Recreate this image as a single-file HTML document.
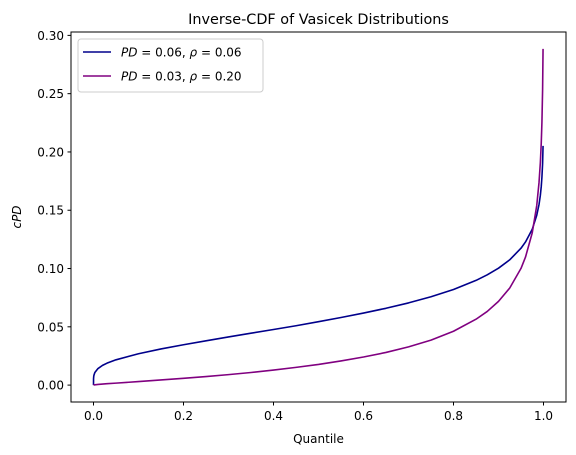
<!DOCTYPE html>
<html><head><meta charset="utf-8"><style>
body{margin:0;background:#fff;}
svg{display:block;font-family:"DejaVu Sans","Liberation Sans",sans-serif;}
</style></head><body>
<svg id="chart" width="576" height="455">
<text x="318.5" y="24" font-size="14.4" text-anchor="middle" fill="#000">Inverse-CDF of Vasicek Distributions</text>
<g id="axes"></g>
<g id="series"></g>
<rect x="71" y="32" width="495" height="370" fill="none" stroke="#000" stroke-width="1"/>
<text x="318.5" y="443" font-size="12" text-anchor="middle">Quantile</text>
<text transform="translate(21,217) rotate(-90)" font-size="12" font-style="italic" text-anchor="middle">cPD</text>
<g>
<rect x="78" y="39" width="185" height="53" rx="3" fill="#fff" stroke="#ccc"/>
<line x1="83" y1="52" x2="111" y2="52" stroke="#00008b" stroke-width="1.6"/>
<text x="121" y="56.5" font-size="12"><tspan font-style="italic">PD</tspan> = 0.06,  <tspan font-style="italic">ρ</tspan> = 0.06</text>
<line x1="83" y1="76" x2="111" y2="76" stroke="#800080" stroke-width="1.6"/>
<text x="121" y="80.5" font-size="12"><tspan font-style="italic">PD</tspan> = 0.03,  <tspan font-style="italic">ρ</tspan> = 0.20</text>
</g>
</svg>
<script>
const quantiles=[0,0.0001,0.0005,0.001,0.003,0.01,0.02,0.03,0.05,0.1,0.15,0.2,0.25,0.3,0.35,0.4,0.45,0.5,0.55,0.6,0.65,0.7,0.75,0.8,0.85,0.875,0.9,0.925,0.95,0.96,0.975,0.985,0.99,0.993,0.995,0.9965,0.998,0.999];
const seriesA=[0,0.0055,0.0074,0.0085,0.0108,0.0142,0.0169,0.0188,0.0217,0.0269,0.0310,0.0346,0.0380,0.0413,0.0445,0.0477,0.0509,0.0544,0.0580,0.0618,0.0659,0.0705,0.0758,0.0820,0.0898,0.0946,0.1003,0.1075,0.1174,0.1228,0.1337,0.1457,0.1548,0.1628,0.1703,0.1783,0.190,0.2052];
const seriesB=[0,0.00003,0.00009,0.00013,0.00025,0.00055,0.00087,0.00117,0.0017,0.0030,0.0044,0.0058,0.0073,0.0090,0.0108,0.0129,0.0152,0.0177,0.0207,0.0241,0.0280,0.0328,0.0386,0.0462,0.0565,0.0632,0.0718,0.0833,0.1001,0.1098,0.1307,0.1541,0.1736,0.1909,0.2075,0.2252,0.2533,0.2884];
const xTicks=[0,0.2,0.4,0.6,0.8,1.0];
const xTickLabels=["0.0","0.2","0.4","0.6","0.8","1.0"];
const yTicks=[0,0.05,0.10,0.15,0.20,0.25,0.30];
const yTickLabels=["0.00","0.05","0.10","0.15","0.20","0.25","0.30"];
const NS="http://www.w3.org/2000/svg";
const X0=71,X1=566,Y0=402,Y1=32,xmin=-0.05,xmax=1.05,ymin=-0.0145,ymax=0.3029;
const sx=v=>X0+(v-xmin)/(xmax-xmin)*(X1-X0);
const sy=v=>Y0-(v-ymin)/(ymax-ymin)*(Y0-Y1);
const axes=document.getElementById('axes');
xTicks.forEach((t,i)=>{
  const l=document.createElementNS(NS,'line');
  l.setAttribute('x1',sx(t));l.setAttribute('x2',sx(t));l.setAttribute('y1',Y0);l.setAttribute('y2',Y0+3.5);l.setAttribute('stroke','#000');
  
  
  axes.appendChild(l);
  const tx=document.createElementNS(NS,'text');
  tx.setAttribute('x',sx(t));tx.setAttribute('y',Y0+18);tx.setAttribute('font-size','12');tx.setAttribute('text-anchor','middle');
  tx.textContent=xTickLabels[i];
  
  
  axes.appendChild(tx);
});
yTicks.forEach((t,i)=>{
  const l=document.createElementNS(NS,'line');
  l.setAttribute('x1',X0-3.5);l.setAttribute('x2',X0);l.setAttribute('y1',sy(t));l.setAttribute('y2',sy(t));l.setAttribute('stroke','#000');
  
  
  axes.appendChild(l);
  const tx=document.createElementNS(NS,'text');
  tx.setAttribute('x',X0-7);tx.setAttribute('y',sy(t)+4.5);tx.setAttribute('font-size','12');tx.setAttribute('text-anchor','end');
  tx.textContent=yTickLabels[i];
  
  
  axes.appendChild(tx);
});
const sg=document.getElementById('series');
function draw(vals,color,name){
  const p=document.createElementNS(NS,'polyline');
  p.setAttribute('points',quantiles.map((q,i)=>sx(q).toFixed(2)+','+sy(vals[i]).toFixed(2)).join(' '));
  p.setAttribute('fill','none');p.setAttribute('stroke',color);p.setAttribute('stroke-width','1.6');p.setAttribute('stroke-linejoin','round');
  
  
  sg.appendChild(p);
}
draw(seriesA,'#00008b','line-pd006-rho006');
draw(seriesB,'#800080','line-pd003-rho020');
</script>
</body></html>
